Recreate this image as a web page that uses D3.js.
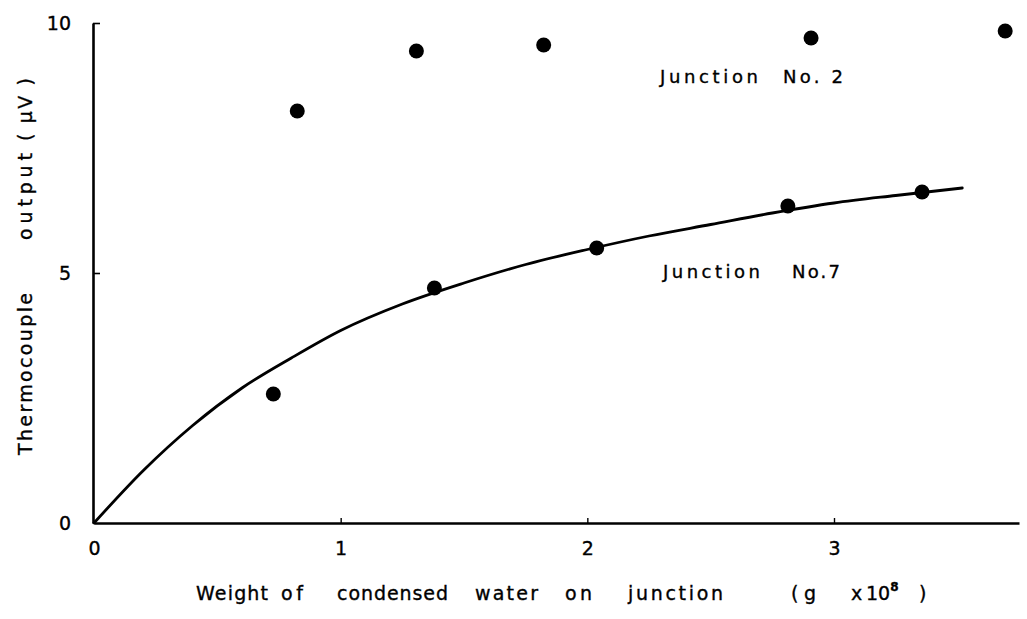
<!DOCTYPE html>
<html>
<head>
<meta charset="utf-8">
<script src="https://cdn.jsdelivr.net/npm/d3@7"></script>
<style>
  html, body { margin: 0; padding: 0; background: #fff; }
  svg { display: block; }
  text { font-family: "DejaVu Sans", "Liberation Sans", sans-serif; fill: #000; stroke: #000; stroke-width: 0.35; }
</style>
</head>
<body>
<svg id="chart" width="1027" height="619"></svg>
<script>
// Tick values on each axis
const xTickValues = [0, 1, 2, 3];
const yTickValues = [0, 5, 10];

// Junction No. 2: weight of condensed water (g x 10^8) vs thermocouple output (µV)
const junction2Weight = [0.824, 1.307, 1.823, 2.907, 3.694];
const junction2Output = [8.24, 9.44, 9.56, 9.70, 9.84];

// Junction No. 7 measurements
const junction7Weight = [0.727, 1.380, 2.038, 2.813, 3.357];
const junction7Output = [2.58, 4.70, 5.50, 6.34, 6.62];

// Smooth curve drawn through the Junction No. 7 points
const curveWeight = [0, 0.2, 0.4, 0.6, 0.8, 1.0, 1.25, 1.5, 1.75, 2.0, 2.25, 2.5, 2.75, 3.0, 3.25, 3.52];
const curveOutput = [0, 1.05, 1.95, 2.7, 3.3, 3.85, 4.38, 4.8, 5.17, 5.47, 5.74, 5.97, 6.2, 6.4, 6.55, 6.7];

// Text
const xLabelWords = ["Weight", "of", "condensed", "water", "on", "junction", "(", "g", "x", "10", ")"];
const yLabelWords = ["Thermocouple", "output", "( µV )"];
const seriesLabels = [["Junction", "No. 2"], ["Junction", "No.7"]];

const svg = d3.select("#chart");

const x = d3.scaleLinear().domain([0, 3.75]).range([94, 1019]);
const y = d3.scaleLinear().domain([0, 10]).range([523, 23]);

// X axis: long baseline with short upward ticks
const xAxis = svg.append("g")
  .attr("transform", `translate(0,${y(0)})`)
  .call(d3.axisBottom(x)
    .tickValues(xTickValues)
    .tickSizeInner(-5)
    .tickSizeOuter(0)
    .tickPadding(19)
    .tickFormat(d3.format("d")));
xAxis.select(".domain").attr("stroke", "#000").attr("stroke-width", 2.6);
xAxis.selectAll(".tick line").attr("stroke", "#000").attr("stroke-width", 1.4)
  .filter(d => d === 0).remove();
xAxis.selectAll(".tick text").attr("font-size", 19).attr("font-family", "DejaVu Sans").attr("fill", "#000");

// Y axis: ticks pointing into the plot
const yAxis = svg.append("g")
  .attr("transform", `translate(${x(0) - 1},0)`)
  .call(d3.axisLeft(y)
    .tickValues(yTickValues)
    .tickSizeInner(-7)
    .tickSizeOuter(0)
    .tickPadding(22)
    .tickFormat(d3.format("d")));
yAxis.select(".domain").attr("stroke", "#000").attr("stroke-width", 2.6);
yAxis.selectAll(".tick line").attr("stroke", "#000").attr("stroke-width", 1.6)
  .filter(d => d === 0).remove();
yAxis.selectAll(".tick text").attr("font-size", 19).attr("font-family", "DejaVu Sans").attr("fill", "#000");

// Fitted curve for Junction No. 7
const curvePoints = curveWeight.map((w, i) => [w, curveOutput[i]]);
svg.append("path")
  .datum(curvePoints)
  .attr("fill", "none")
  .attr("stroke", "#000")
  .attr("stroke-width", 2.8)
  .attr("stroke-linecap", "round")
  .attr("d", d3.line().x(d => x(d[0])).y(d => y(d[1])).curve(d3.curveMonotoneX));

// Data points
function drawPoints(weights, outputs) {
  svg.append("g").selectAll("circle")
    .data(weights.map((w, i) => [w, outputs[i]]))
    .join("circle")
    .attr("cx", d => x(d[0]))
    .attr("cy", d => y(d[1]))
    .attr("r", 7.5)
    .attr("fill", "#000");
}
drawPoints(junction2Weight, junction2Output);
drawPoints(junction7Weight, junction7Output);

// Series labels, word by word
const seriesLabelLayout = [
  [{ x: 660, len: 98 }, { x: 783, len: 60 }],
  [{ x: 663, len: 97 }, { x: 792, len: 48 }]
];
const seriesLabelBaseline = [83, 278];
seriesLabels.forEach((words, s) => {
  words.forEach((w, i) => {
    svg.append("text")
      .attr("x", seriesLabelLayout[s][i].x)
      .attr("y", seriesLabelBaseline[s])
      .attr("font-size", 18)
      .attr("textLength", seriesLabelLayout[s][i].len)
      .attr("lengthAdjust", "spacing")
      .text(w);
  });
});

// X axis title
const xLabelLayout = [
  { x: 196, len: 72 }, { x: 281, len: 22 }, { x: 337, len: 111 }, { x: 475, len: 63 },
  { x: 565, len: 27 }, { x: 628, len: 95 }, { x: 791 }, { x: 804 },
  { x: 851 }, { x: 866 }, { x: 919 }
];
xLabelWords.forEach((w, i) => {
  const t = svg.append("text")
    .attr("x", xLabelLayout[i].x)
    .attr("y", 600)
    .attr("font-size", 19)
    .text(w);
  if (xLabelLayout[i].len) {
    t.attr("textLength", xLabelLayout[i].len).attr("lengthAdjust", "spacing");
  }
  if (w === "10") {
    t.append("tspan")
      .attr("dy", -9)
      .attr("font-size", 12)
      .attr("font-weight", "bold")
      .text("8");
  }
});

// Y axis title, rotated
const yLabelLayout = [{ y: 455, len: 162 }, { y: 240, len: 87 }, { y: 141, len: 63 }];
yLabelWords.forEach((w, i) => {
  svg.append("text")
    .attr("transform", `translate(32,${yLabelLayout[i].y}) rotate(-90)`)
    .attr("font-size", 19)
    .attr("textLength", yLabelLayout[i].len)
    .attr("lengthAdjust", "spacing")
    .text(w);
});
</script>
</body>
</html>
